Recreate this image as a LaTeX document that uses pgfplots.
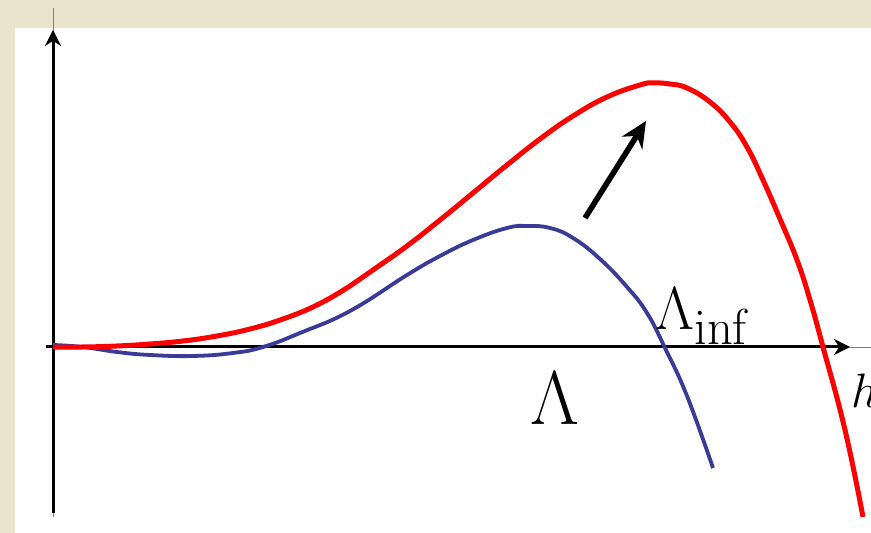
\documentclass[border=0pt]{standalone}
\usepackage{pgfplots}
\pgfplotsset{compat=1.18}
\usetikzlibrary{arrows.meta}

\definecolor{parch}{RGB}{236,227,205}
\definecolor{curveblue}{RGB}{58,58,152}

\begin{document}
\begin{tikzpicture}
\begin{axis}[
    scale only axis,
    width=435.5pt, height=266.5pt,
    xmin=-53, xmax=818, ymin=-186, ymax=347,
    hide axis,
    clip=false,
]
% backdrop
\fill[parch] (axis cs:-53,-186) rectangle (axis cs:818,347);
\fill[white] (axis cs:-38,-186) rectangle (axis cs:818,319);

% axes
\draw[gray, line width=0.4pt] (axis cs:0,-170) -- (axis cs:0,339);
\draw[gray, line width=0.4pt] (axis cs:-7,0) -- (axis cs:818,0);
\draw[line width=1.5pt, -{Stealth[length=8pt,width=8pt]}] (axis cs:0,-166) -- (axis cs:0,317);
\draw[line width=1.5pt, -{Stealth[length=8pt,width=8pt]}] (axis cs:-7,0) -- (axis cs:797,0);

% Lambda
\addplot[curveblue, line width=1.9pt, smooth, tension=0.75] coordinates {
(0,2) (30,0) (64,-5) (97,-8) (140,-9) (180,-6) (210,0) (247,14)
(297,36) (354,72) (387,91) (420,107) (454,119) (474,121) (497,119)
(520,109) (547,88) (574,60) (594,34) (612,-1) (634,-49) (660,-121)
};

% Lambda_inf
\addplot[red, line width=2.5pt, smooth, tension=0.75] coordinates {
(0,0) (30,0) (64,1) (97,3) (130,6) (164,11) (197,18) (230,28)
(264,42) (297,61) (320,77) (354,101) (387,127) (420,154) (454,182)
(487,208) (520,231) (554,250) (587,262) (600,264) (617,263) (634,259)
(657,245) (677,225) (694,200) (710,167) (727,128) (744,87) (757,47)
(770,0) (792,-83) (810,-170)
};

\draw[line width=2.8pt, -{Stealth[length=13pt,width=12pt]}] (axis cs:532,129) -- (axis cs:593,226);

\node[anchor=base west, inner sep=0pt, font=\Huge, scale=1.22] at (axis cs:602,17)
  {$\Lambda_{\mathrm{inf}}$};
\node[anchor=base west, inner sep=0pt, font=\Huge, scale=1.53] at (axis cs:477,-78)
  {$\Lambda$};
\node[anchor=base west, inner sep=0pt, font=\Huge, scale=0.97] at (axis cs:798,-61)
  {$h$};
\end{axis}
\pgfresetboundingbox
\path (current axis.south west) rectangle (current axis.north east);
\end{tikzpicture}
\end{document}
